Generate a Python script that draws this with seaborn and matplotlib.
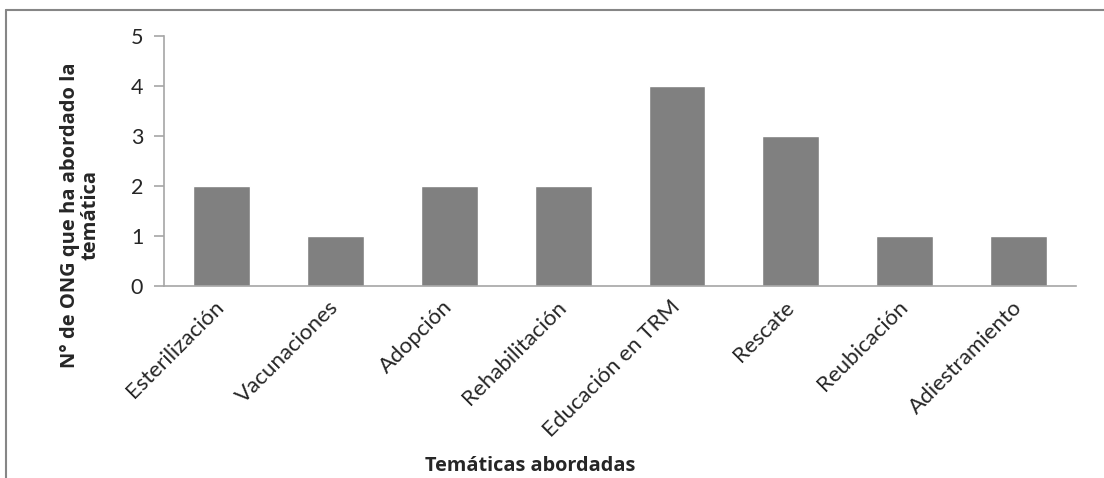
import matplotlib
matplotlib.use("Agg")
import matplotlib.pyplot as plt
from matplotlib.lines import Line2D
import pandas as pd
import seaborn as sns

tematicas = ["Esterilización", "Vacunaciones", "Adopción", "Rehabilitación",
             "Educación en TRM", "Rescate", "Reubicación", "Adiestramiento"]
num_ong = [2, 1, 2, 2, 4, 3, 1, 1]
y_ticks = [0, 1, 2, 3, 4, 5]

sns.set_theme(style="white")
plt.rcParams["font.family"] = ["Lato", "DejaVu Sans"]

df = pd.DataFrame({"tematica": tematicas, "n": num_ong})

fig = plt.figure(figsize=(11.04, 4.78), dpi=100)
ax = fig.add_axes([0.1486, 0.4017, 0.826, 0.523])

sns.barplot(data=df, x="tematica", y="n", color="#808080", saturation=1,
            width=0.5, ax=ax)

axis_col = "#A6A6A6"
ax.set_ylim(0, 5)
ax.set_xlim(-0.5, len(tematicas) - 0.5)
ax.set_yticks(y_ticks)
ax.set_xticks([i - 0.5 for i in range(len(tematicas) + 1)], minor=True)
ax.tick_params(axis="x", which="major", length=0, pad=13)
ax.tick_params(axis="x", which="minor", length=7, color=axis_col, width=1.2)
ax.tick_params(axis="y", length=7, color=axis_col, width=1.2, direction="out",
               left=True, labelsize=15.5, pad=8)
ax.tick_params(axis="x", labelsize=16)
for sp in ["top", "right"]:
    ax.spines[sp].set_visible(False)
for sp in ["left", "bottom"]:
    ax.spines[sp].set_color(axis_col)
    ax.spines[sp].set_linewidth(1.2)

ax.set_xticks(range(len(tematicas)))
ax.set_xticklabels(tematicas, rotation=45, ha="right", va="center",
                   rotation_mode="anchor")

label_font = ["Open Sans", "DejaVu Sans"]
ax.set_xlabel("Temáticas abordadas", fontsize=14.3, fontweight="bold",
              family=label_font)
ax.xaxis.set_label_coords(0.402, -0.68)
ax.set_ylabel("N° de ONG que ha abordado la\ntemática", fontsize=14.5,
              fontweight="bold", linespacing=1.0, family=label_font)
ax.yaxis.set_label_coords(-0.070, 0.284)

# chart frame (cut off at right and bottom)
frame_col = "#868686"
fig.add_artist(Line2D([6 / 1104, 1.0], [1 - 9.5 / 478, 1 - 9.5 / 478],
                      transform=fig.transFigure, color=frame_col, lw=1.5))
fig.add_artist(Line2D([6 / 1104, 6 / 1104], [0, 1 - 9.5 / 478],
                      transform=fig.transFigure, color=frame_col, lw=1.5))

fig.savefig("out.png", dpi=100)
